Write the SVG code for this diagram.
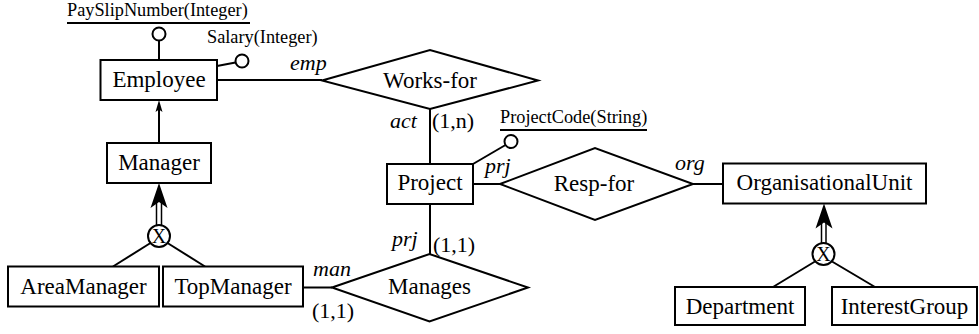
<svg xmlns="http://www.w3.org/2000/svg" xmlns:xlink="http://www.w3.org/1999/xlink" width="979" height="334" viewBox="0 0 979 334">
<style>
  .box { fill: #fff; stroke: #000; stroke-width: 2; }
  .rel { fill: #fff; stroke: #000; stroke-width: 2; stroke-linejoin: miter; }
  .ln { stroke: #000; stroke-width: 2; fill: none; }
  .thin { stroke: #000; stroke-width: 1.5; fill: none; }
  .attr { fill: #fff; stroke: #000; stroke-width: 2; }
  .t { font-family: "Liberation Serif", "Times New Roman", serif; font-size: 23px; fill: #000; text-anchor: middle; }
  .lab { font-family: "Liberation Serif", "Times New Roman", serif; font-size: 22px; fill: #000; }
  .it { font-style: italic; }
  .sm { font-family: "Liberation Serif", "Times New Roman", serif; font-size: 18.3px; fill: #000; }
  .x { font-family: "Liberation Serif", "Times New Roman", serif; font-size: 20px; fill: #000; text-anchor: middle; }
</style>
<defs>
  <path id="isaHead" d="M0,0 L-8.5,25 L0,19 L8.5,25 Z" fill="#000"/>
  <path id="smallHead" d="M0,0 L-3.5,12 L0,9.5 L3.5,12 Z" fill="#000"/>
</defs>

<g id="connectors">
  <!-- attribute links -->
  <line class="ln" x1="159" y1="40.5" x2="159" y2="60"/>
  <line class="ln" x1="217" y1="66" x2="235.5" y2="62.5"/>
  <line class="ln" x1="473" y1="164" x2="505.5" y2="145"/>
  <!-- Employee - Works-for -->
  <line class="ln" x1="217" y1="80" x2="322" y2="80"/>
  <!-- Works-for - Project -->
  <line class="ln" x1="430" y1="109" x2="430" y2="164"/>
  <!-- Project - Resp-for -->
  <line class="ln" x1="473" y1="184" x2="500" y2="184"/>
  <!-- Resp-for - OrganisationalUnit -->
  <line class="ln" x1="693" y1="184" x2="723" y2="184"/>
  <!-- Project - Manages -->
  <line class="ln" x1="430" y1="204" x2="430" y2="254"/>
  <!-- TopManager - Manages -->
  <line class="ln" x1="303" y1="287.5" x2="332" y2="287.5"/>
  <!-- Manager -> Employee -->
  <line class="ln" x1="159" y1="143" x2="159" y2="108"/>
  <use xlink:href="#smallHead" href="#smallHead" x="159" y="100"/>
  <!-- Manager generalization -->
  <line class="thin" x1="156.5" y1="202" x2="156.5" y2="225.5"/>
  <line class="thin" x1="161.5" y1="202" x2="161.5" y2="225.5"/>
  <use xlink:href="#isaHead" href="#isaHead" x="159" y="183"/>
  <line class="ln" x1="150.5" y1="243" x2="113" y2="266.5"/>
  <line class="ln" x1="167.5" y1="243" x2="205" y2="266.5"/>
  <!-- OrganisationalUnit generalization -->
  <line class="thin" x1="821.5" y1="222" x2="821.5" y2="243.5"/>
  <line class="thin" x1="826" y1="222" x2="826" y2="243.5"/>
  <use xlink:href="#isaHead" href="#isaHead" x="824" y="203.5"/>
  <line class="ln" x1="815" y1="261.5" x2="773" y2="287"/>
  <line class="ln" x1="832" y1="261.5" x2="875" y2="287"/>
</g>

<g id="attr-PaySlipNumber">
  <circle class="attr" cx="159" cy="34" r="6.5"/>
  <text class="sm" x="67" y="15.5">PaySlipNumber(Integer)</text>
  <line class="ln" x1="67" y1="23" x2="250" y2="23"/>
</g>
<g id="attr-Salary">
  <circle class="attr" cx="242" cy="61" r="6.5"/>
  <text class="sm" x="207" y="43">Salary(Integer)</text>
</g>
<g id="attr-ProjectCode">
  <circle class="attr" cx="511" cy="141.5" r="6.5"/>
  <text class="sm" x="500" y="123">ProjectCode(String)</text>
  <line class="ln" x1="500" y1="130" x2="647" y2="130"/>
</g>

<g id="Employee">
  <rect class="box" x="100.5" y="60" width="116.5" height="40"/>
  <text class="t" x="159" y="87">Employee</text>
</g>
<g id="Manager">
  <rect class="box" x="107" y="143" width="104" height="40"/>
  <text class="t" x="159" y="169.5">Manager</text>
</g>
<g id="isa-Manager">
  <circle class="attr" cx="159" cy="236" r="11"/>
  <text class="x" x="159" y="242.5">X</text>
</g>
<g id="AreaManager">
  <rect class="box" x="8" y="266.5" width="151" height="40"/>
  <text class="t" x="83.5" y="293.5">AreaManager</text>
</g>
<g id="TopManager">
  <rect class="box" x="163" y="266.5" width="140" height="40"/>
  <text class="t" x="233" y="293.5">TopManager</text>
</g>
<g id="Project">
  <rect class="box" x="387" y="164" width="86" height="40"/>
  <text class="t" x="430" y="190">Project</text>
</g>
<g id="OrganisationalUnit">
  <rect class="box" x="723" y="163.5" width="203" height="40"/>
  <text class="t" x="824.5" y="190">OrganisationalUnit</text>
</g>
<g id="isa-OrganisationalUnit">
  <circle class="attr" cx="823.5" cy="254" r="11"/>
  <text class="x" x="823.5" y="260.5">X</text>
</g>
<g id="Department">
  <rect class="box" x="675" y="287" width="130" height="38"/>
  <text class="t" x="740" y="313.5">Department</text>
</g>
<g id="InterestGroup">
  <rect class="box" x="832" y="287" width="145" height="38"/>
  <text class="t" x="904.5" y="313.5">InterestGroup</text>
</g>

<g id="Works-for">
  <polygon class="rel" points="322,80.5 430,50 538,80.5 430,109"/>
  <text class="t" x="430" y="88">Works-for</text>
</g>
<g id="Resp-for">
  <polygon class="rel" points="500,184 595,148 693,184 595,220"/>
  <text class="t" x="594" y="191">Resp-for</text>
</g>
<g id="Manages">
  <polygon class="rel" points="332,287.5 429.5,254 528,287.5 429.5,321.5"/>
  <text class="t" x="429.5" y="294">Manages</text>
</g>

<g id="labels">
  <text class="lab it" x="290" y="70">emp</text>
  <text class="lab it" x="390" y="128">act</text>
  <text class="lab" x="432" y="128">(1,n)</text>
  <text class="lab it" x="485" y="173">prj</text>
  <text class="lab it" x="675" y="170">org</text>
  <text class="lab it" x="392" y="246">prj</text>
  <text class="lab" x="433" y="252">(1,1)</text>
  <text class="lab it" x="313" y="276">man</text>
  <text class="lab" x="312" y="318">(1,1)</text>
</g>
</svg>
